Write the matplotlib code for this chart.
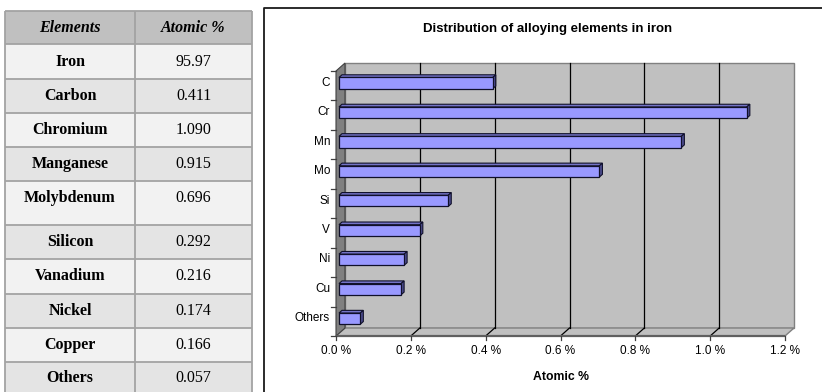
import matplotlib
matplotlib.use("Agg")
import matplotlib.pyplot as plt
from matplotlib.patches import Polygon, Rectangle
from matplotlib.transforms import offset_copy

# ---- data -------------------------------------------------------------
table_header = ["Elements", "Atomic %"]
table_elements = ["Iron", "Carbon", "Chromium", "Manganese", "Molybdenum",
                  "Silicon", "Vanadium", "Nickel", "Copper", "Others"]
table_atomic = ["95.97", "0.411", "1.090", "0.915", "0.696",
                "0.292", "0.216", "0.174", "0.166", "0.057"]

chart_symbols = ["C", "Cr", "Mn", "Mo", "Si", "V", "Ni", "Cu", "Others"]
chart_values = [float(s) for s in table_atomic[1:]]
x_ticks = [0.0, 0.2, 0.4, 0.6, 0.8, 1.0, 1.2]

chart_title = "Distribution of alloying elements in iron"
x_label = "Atomic %"

# ---- figure -----------------------------------------------------------
W, H, DPI = 822, 392, 100
fig = plt.figure(figsize=(W / DPI, H / DPI), dpi=DPI)
fig.patch.set_facecolor("white")

sans = ["Liberation Sans", "DejaVu Sans"]
serif = ["Liberation Serif", "DejaVu Serif"]

# pixel-space canvas for the table and the chart frame
bg = fig.add_axes([0, 0, 1, 1])
bg.set_xlim(0, W)
bg.set_ylim(H, 0)
bg.axis("off")

# ---- table ------------------------------------------------------------
tx0, tx1, tx2 = 5, 135, 252
row_edges = [11, 44, 79, 113, 147, 181, 225, 259, 294, 328, 362, 400]
grid_col = "#a3a3a3"

for r in range(len(row_edges) - 1):
    top, bot = row_edges[r], row_edges[r + 1]
    if r == 0:
        fc = "#c0c0c0"
    else:
        fc = "#f2f2f2" if r % 2 == 1 else "#e4e4e4"
    bg.add_patch(Rectangle((tx0, top), tx2 - tx0, bot - top,
                           facecolor=fc, edgecolor="none", zorder=1))

for y in row_edges[:-1]:
    bg.plot([tx0, tx2], [y, y], color=grid_col, lw=1.3, zorder=2,
            solid_capstyle="butt")
for x in (tx0, tx1, tx2):
    bg.plot([x, x], [row_edges[0], H], color=grid_col, lw=1.3, zorder=2,
            solid_capstyle="butt")

c1 = (tx0 + tx1) / 2
c2 = (tx1 + tx2) / 2
hy = (row_edges[0] + row_edges[1]) / 2
bg.text(c1, hy, table_header[0], ha="center", va="center", fontsize=11.5,
        fontweight="bold", fontstyle="italic", family=serif, zorder=3)
bg.text(c2, hy, table_header[1], ha="center", va="center", fontsize=11.5,
        fontweight="bold", fontstyle="italic", family=serif, zorder=3)

for i, (name, val) in enumerate(zip(table_elements, table_atomic)):
    top, bot = row_edges[i + 1], row_edges[i + 2]
    yc = (top + bot) / 2 if bot - top < 40 else top + 17
    if i == len(table_elements) - 1:
        yc = top + 16
    bg.text(c1, yc, name, ha="center", va="center", fontsize=11.5,
            fontweight="bold", family=serif, zorder=3)
    bg.text(c2, yc, val, ha="center", va="center", fontsize=11.5,
            family=serif, zorder=3)

# ---- chart frame and titles -------------------------------------------
bg.plot([264, 264, W + 2], [H + 2, 8, 8], color="#1a1a1a", lw=1.3, zorder=2)
bg.text(548, 29, chart_title, ha="center", va="center", fontsize=9.5,
        fontweight="bold", family=sans)
bg.text(561, 377, x_label, ha="center", va="center", fontsize=8.8,
        fontweight="bold", family=sans)

# ---- 3-D bar chart ----------------------------------------------------
# front plane of the plot box in pixels
fx0, fx1, fy_top, fy_bot = 336, 785, 71, 336
ax = fig.add_axes([fx0 / W, (H - fy_bot) / H, (fx1 - fx0) / W,
                   (fy_bot - fy_top) / H])
n = len(chart_symbols)
ax.set_xlim(x_ticks[0], x_ticks[-1])
ax.set_ylim(n - 0.5, -0.5)
ax.axis("off")

DX, DY = 9.0, 8.0  # depth of the box in display pixels


def proj(x, y, k=0.0, dx=0.0, dy=0.0):
    """Data point pushed back by depth fraction k plus a pixel nudge."""
    px, py = ax.transData.transform((x, y))
    return ax.transData.inverted().transform((px + k * DX + dx,
                                              py + k * DY + dy))


def poly(pts, **kw):
    p = Polygon(pts, closed=True, clip_on=False, **kw)
    ax.add_patch(p)
    return p


xmin, xmax = x_ticks[0], x_ticks[-1]
ytop, ybot = -0.5, n - 0.5
wall = "#c0c0c0"
edge_grey = "#808080"

# back wall
poly([proj(xmin, ytop, 1), proj(xmax, ytop, 1), proj(xmax, ybot, 1),
      proj(xmin, ybot, 1)], facecolor=wall, edgecolor=edge_grey, lw=1.0,
     zorder=1)
# floor
poly([proj(xmin, ybot, 0), proj(xmax, ybot, 0), proj(xmax, ybot, 1),
      proj(xmin, ybot, 1)], facecolor=wall, edgecolor=edge_grey, lw=1.0,
     zorder=1)
# left wall
poly([proj(xmin, ytop, 0), proj(xmin, ytop, 1), proj(xmin, ybot, 1),
      proj(xmin, ybot, 0)], facecolor="#808080", edgecolor="#404040", lw=0.8,
     zorder=2)

# gridlines on back wall and floor
for v in x_ticks[1:-1]:
    b0, b1 = proj(v, ytop, 1), proj(v, ybot, 1)
    ax.plot([b0[0], b1[0]], [b0[1], b1[1]], color="black", lw=0.9,
            clip_on=False, zorder=1.5)
    f0 = proj(v, ybot, 0)
    ax.plot([f0[0], b1[0]], [f0[1], b1[1]], color="black", lw=0.9,
            clip_on=False, zorder=1.5)

# floor front edge
ax.plot([xmin, xmax], [ybot, ybot], color="#606060", lw=1.6,
        clip_on=False, zorder=2.5, solid_capstyle="butt")

# x ticks and labels
lab_tr = offset_copy(ax.transData, fig=fig, x=0, y=-15, units="dots")
for v in x_ticks:
    t1 = proj(v, ybot, 0, dy=-4)
    ax.plot([v, t1[0]], [ybot, t1[1]], color="#404040", lw=0.9,
            clip_on=False, zorder=2.5)
    ax.text(v, ybot, f"{v:.1f} %", transform=lab_tr, ha="center",
            va="center", fontsize=8.5, family=sans)

# category ticks and labels
for b in range(n + 1):
    yb = b - 0.5
    t1 = proj(xmin, yb, 0, dx=-5)
    ax.plot([xmin, t1[0]], [yb, t1[1]], color="#404040", lw=0.9,
            clip_on=False, zorder=2.5)
cat_tr = offset_copy(ax.transData, fig=fig, x=-6, y=3, units="dots")
for i, s in enumerate(chart_symbols):
    ax.text(xmin, i, s, transform=cat_tr, ha="right", va="center",
            fontsize=8.5, family=sans)

# bars
k1, k2 = 1 / 3, 2 / 3
bh = 0.38
front_c, top_c, side_c = "#9999ff", "#7373c6", "#4d4d8f"
bar_edge = "#10102a"
for i, v in enumerate(chart_values):
    yt, yb = i - bh / 2, i + bh / 2
    # top face
    poly([proj(xmin, yt, k1), proj(v, yt, k1), proj(v, yt, k2),
          proj(xmin, yt, k2)], facecolor=top_c, edgecolor=bar_edge,
         lw=0.8, zorder=3)
    # right side face
    poly([proj(v, yt, k1), proj(v, yb, k1), proj(v, yb, k2),
          proj(v, yt, k2)], facecolor=side_c, edgecolor=bar_edge,
         lw=0.8, zorder=3)
    # front face
    poly([proj(xmin, yt, k1), proj(v, yt, k1), proj(v, yb, k1),
          proj(xmin, yb, k1)], facecolor=front_c, edgecolor=bar_edge,
         lw=0.9, zorder=4)

fig.savefig("out.png", dpi=DPI, facecolor="white")
